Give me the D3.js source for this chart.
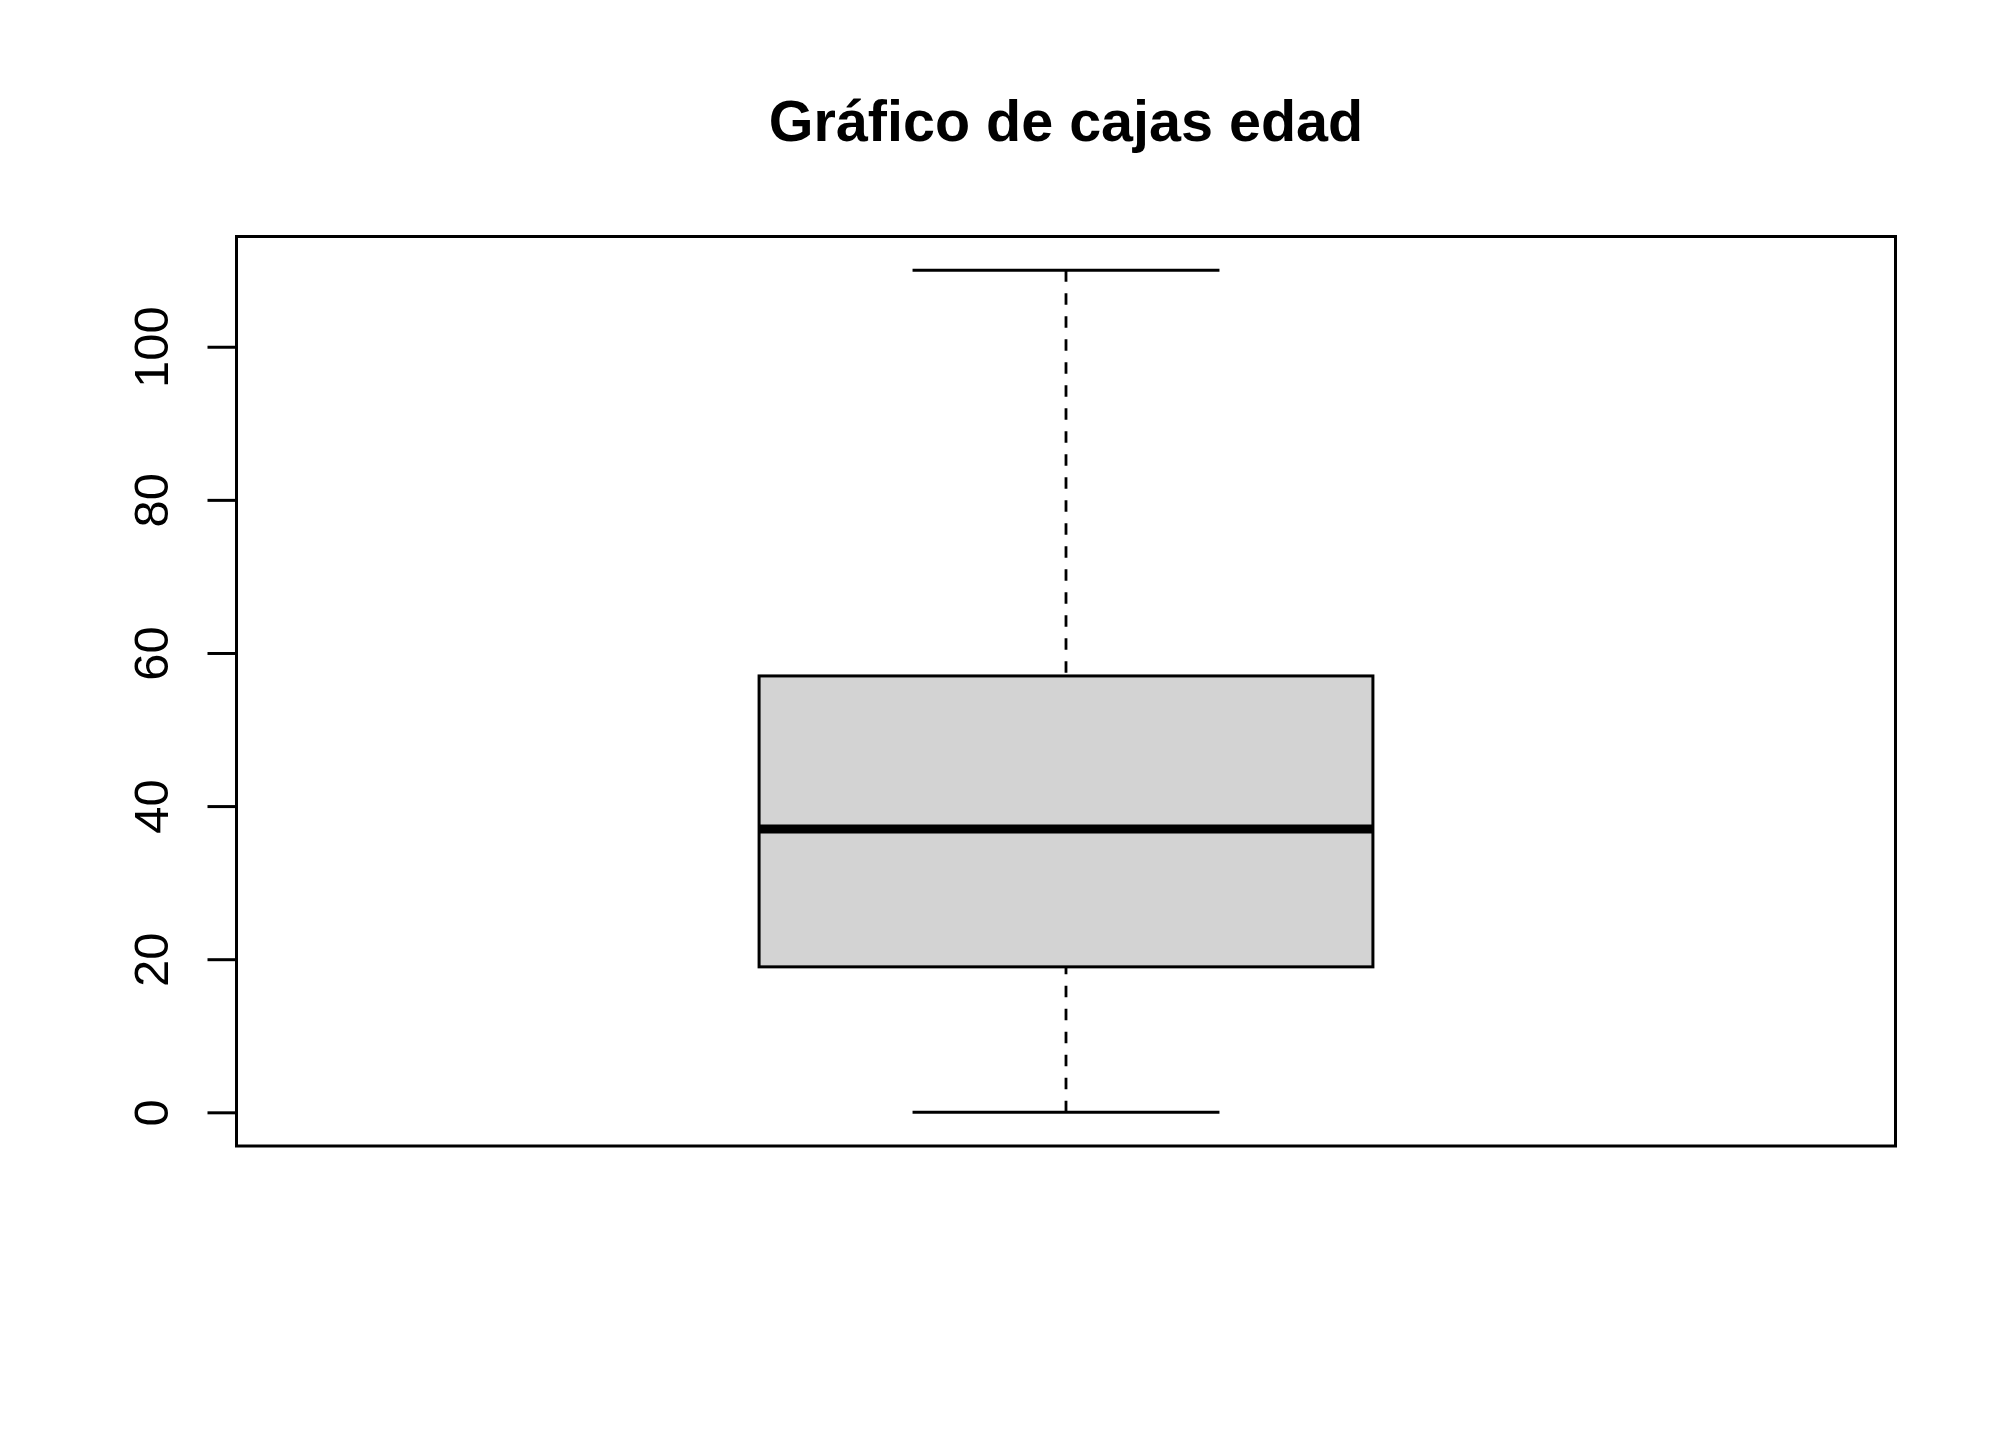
<!DOCTYPE html>
<html>
<head>
<meta charset="utf-8">
<script src="https://cdn.jsdelivr.net/npm/d3@7"></script>
<style>
  html, body { margin: 0; padding: 0; background: #fff; }
  svg { display: block; }
</style>
</head>
<body>
<script>
// Data
const title = "Gráfico de cajas edad";
const groups = ["edad"];
const whiskerLow = [0];
const q1 = [19];
const median = [37];
const q3 = [57];
const whiskerHigh = [110];
const yTicks = [0, 20, 40, 60, 80, 100];

const W = 2016, H = 1440;
const plot = { left: 236.5, right: 1895.5, top: 236.5, bottom: 1146 };

const svg = d3.select("body").append("svg")
  .attr("width", W).attr("height", H)
  .style("font-family", "'Liberation Sans', Arial, sans-serif");

svg.append("rect").attr("width", W).attr("height", H).attr("fill", "#fff");

const dataMin = d3.min(whiskerLow), dataMax = d3.max(whiskerHigh);
const pad = (dataMax - dataMin) * 0.04;
const y = d3.scaleLinear()
  .domain([dataMin - pad, dataMax + pad])
  .range([plot.bottom, plot.top]);

const x = d3.scaleLinear()
  .domain([0.5, groups.length + 0.5])
  .range([plot.left, plot.right]);

const boxHalf = 0.185;   // half box width in x units
const stapleHalf = boxHalf / 2;

const g = svg.append("g");

groups.forEach((name, i) => {
  const cx = x(i + 1);
  // whiskers (dashed), drawn from whisker end toward the box
  [[whiskerHigh[i], q3[i]], [whiskerLow[i], q1[i]]].forEach(([from, to]) => {
    g.append("line")
      .attr("x1", cx).attr("x2", cx)
      .attr("y1", y(from)).attr("y2", y(to))
      .attr("stroke", "#000").attr("stroke-width", 2.8)
      .attr("stroke-dasharray", "11.5,11.5");
  });
  // staples
  [whiskerHigh[i], whiskerLow[i]].forEach(v => {
    g.append("line")
      .attr("x1", x(i + 1 - stapleHalf)).attr("x2", x(i + 1 + stapleHalf))
      .attr("y1", y(v)).attr("y2", y(v))
      .attr("stroke", "#000").attr("stroke-width", 3);
  });
  // box
  g.append("rect")
    .attr("x", x(i + 1 - boxHalf))
    .attr("y", y(q3[i]))
    .attr("width", x(i + 1 + boxHalf) - x(i + 1 - boxHalf))
    .attr("height", y(q1[i]) - y(q3[i]))
    .attr("fill", "#D3D3D3")
    .attr("stroke", "#000").attr("stroke-width", 3);
  // median
  g.append("line")
    .attr("x1", x(i + 1 - boxHalf)).attr("x2", x(i + 1 + boxHalf))
    .attr("y1", y(median[i])).attr("y2", y(median[i]))
    .attr("stroke", "#000").attr("stroke-width", 9);
});

// plot frame
svg.append("rect")
  .attr("x", plot.left).attr("y", plot.top)
  .attr("width", plot.right - plot.left)
  .attr("height", plot.bottom - plot.top)
  .attr("fill", "none").attr("stroke", "#000").attr("stroke-width", 3);

// y axis
const axis = d3.axisLeft(y).tickValues(yTicks).tickSize(29).tickPadding(0)
  .tickFormat(d3.format("d"));
const ax = svg.append("g")
  .attr("transform", `translate(${plot.left},0)`)
  .call(axis);
ax.select(".domain").remove();
ax.selectAll(".tick line").attr("stroke", "#000").attr("stroke-width", 3);
ax.selectAll(".tick text")
  .attr("x", null).attr("dy", null)
  .attr("transform", `translate(${168 - plot.left},0) rotate(-90)`)
  .attr("text-anchor", "middle")
  .attr("fill", "#000")
  .style("font-size", "49px")
  .style("font-family", "'Liberation Sans', Arial, sans-serif");

// title
svg.append("text")
  .attr("x", (plot.left + plot.right) / 2)
  .attr("y", 141)
  .attr("text-anchor", "middle")
  .style("font-size", "57.5px")
  .style("font-weight", "bold")
  .attr("fill", "#000")
  .text(title);
</script>
</body>
</html>
